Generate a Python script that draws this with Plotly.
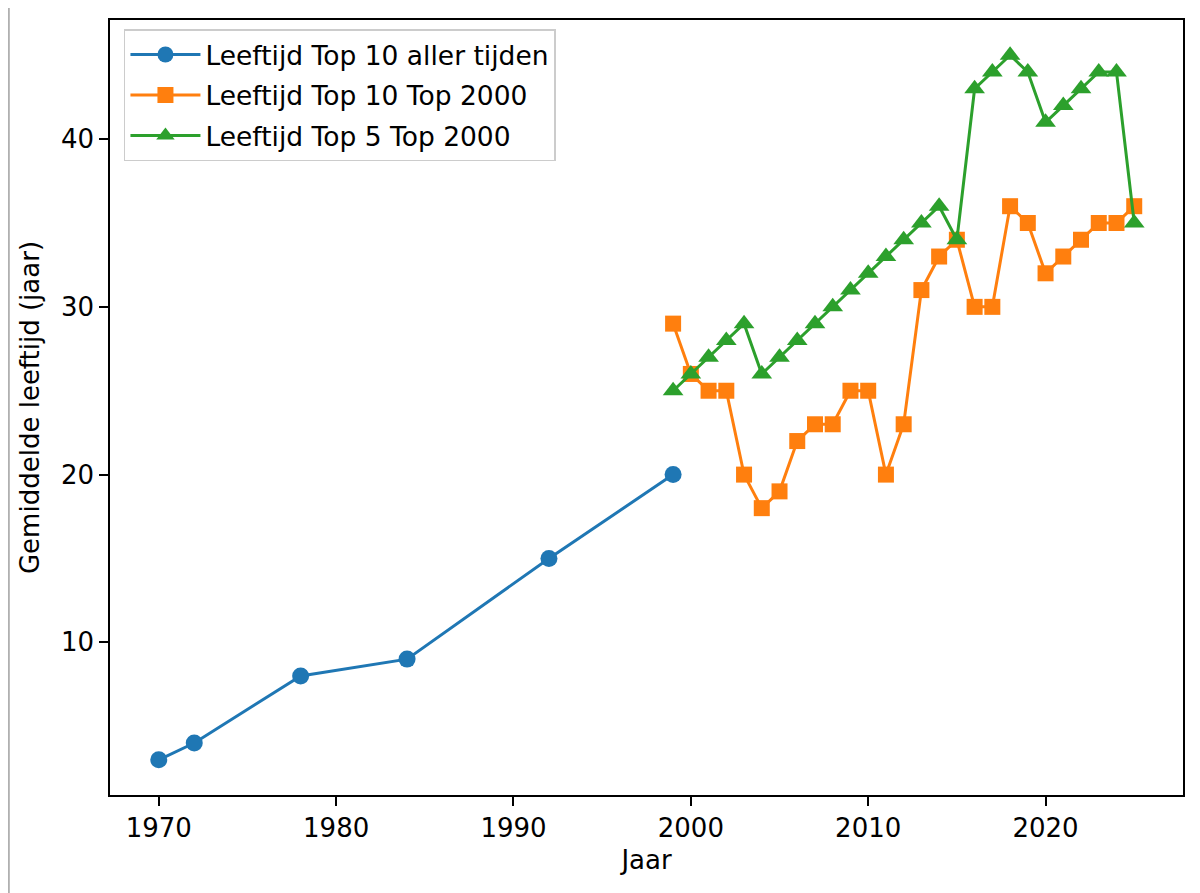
import plotly.graph_objects as go

# Data
years_alltime = [1970, 1972, 1978, 1984, 1992, 1999]
age_alltime = [3, 4, 8, 9, 15, 20]

years_top2000 = list(range(1999, 2026))
age_top10_top2000 = [29, 26, 25, 25, 20, 18, 19, 22, 23, 23, 25, 25, 20, 23, 31, 33, 34,
                     30, 30, 36, 35, 32, 33, 34, 35, 35, 36]
age_top5_top2000 = [25, 26, 27, 28, 29, 26, 27, 28, 29, 30, 31, 32, 33, 34, 35, 36, 34,
                    43, 44, 45, 44, 41, 42, 43, 44, 44, 35]

x_ticks = [1970, 1980, 1990, 2000, 2010, 2020]
y_ticks = [10, 20, 30, 40]

FONT = "DejaVu Sans"
FS = 26
fig = go.Figure()
fig.add_trace(go.Scatter(x=years_alltime, y=age_alltime, mode="lines+markers",
                         name="Leeftijd Top 10 aller tijden", legendgroup="a",
                         line=dict(color="#1f77b4", width=3),
                         marker=dict(symbol="circle", size=17, color="#1f77b4")))
fig.add_trace(go.Scatter(x=years_top2000, y=age_top10_top2000, mode="lines+markers",
                         name="Leeftijd Top 10 Top 2000", legendgroup="b",
                         line=dict(color="#ff7f0e", width=3),
                         marker=dict(symbol="square", size=16, color="#ff7f0e")))
fig.add_trace(go.Scatter(x=years_top2000, y=age_top5_top2000, mode="lines+markers",
                         name="Leeftijd Top 5 Top 2000", legendgroup="c",
                         line=dict(color="#2ca02c", width=3),
                         marker=dict(symbol="triangle-up", size=18, color="#2ca02c")))

axis_common = dict(showline=True, linecolor="black", linewidth=1.5, mirror=True,
                   ticks="outside", ticklen=9, tickwidth=1.5, tickcolor="black",
                   showgrid=False, zeroline=False,
                   tickfont=dict(family=FONT, size=FS, color="black"))

fig.update_layout(
    width=1200, height=893,
    margin=dict(l=102, r=25, t=10, b=106),
    paper_bgcolor="white", plot_bgcolor="white",
    font=dict(family=FONT, size=FS, color="black"),
    xaxis=dict(range=[1967.25, 2027.75], tickvals=x_ticks,
               title=dict(text="Jaar", font=dict(family=FONT, size=FS), standoff=9),
               **axis_common),
    yaxis=dict(range=[0.9, 47.1], tickvals=y_ticks,
               title=dict(text="Gemiddelde leeftijd (jaar)", font=dict(family=FONT, size=FS), standoff=14),
               **axis_common),
    legend=dict(x=0.013, y=0.988, xanchor="left", yanchor="top",
                bgcolor="rgba(255,255,255,0.8)", bordercolor="#cccccc", borderwidth=1.5,
                font=dict(family=FONT, size=26.5, color="black"),
                itemwidth=70, tracegroupgap=3, traceorder="grouped"),
    showlegend=True,
)
fig.add_shape(type="line", xref="paper", yref="paper", x0=-0.0943, x1=-0.0943, y0=-0.14, y1=1.02,
              line=dict(color="#b0b0b0", width=2))

fig.write_html("out.html")
